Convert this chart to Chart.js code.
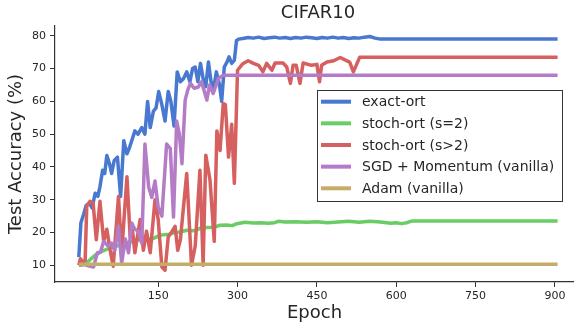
<!DOCTYPE html>
<html>
<head>
<meta charset="utf-8">
<script src="https://cdn.jsdelivr.net/npm/chart.js@4.4.1/dist/chart.umd.min.js"></script>
<style>
  html, body { margin: 0; padding: 0; background: #fff; }
</style>
</head>
<body>
<canvas id="chart" width="574" height="324"></canvas>
<script>
// series data (epoch, test accuracy %)
const seriesLabels = ['exact-ort', 'stoch-ort (s=2)', 'stoch-ort (s>2)', 'SGD + Momentum (vanilla)', 'Adam (vanilla)'];
const seriesColors = ['#4878CF', '#6ACC65', '#D65F5F', '#B47CC7', '#C4AD66'];

const exactEpochs = [0, 4, 9, 14, 20, 25, 31, 36, 40, 45, 49, 53, 58, 62, 67, 73, 79, 85, 91, 96, 100, 106, 112, 119, 125, 130, 135, 141, 146, 151, 157, 163, 169, 174, 180, 186, 192, 198, 204, 210, 215, 220, 225, 230, 236, 240, 245, 250, 255, 260, 266, 270, 275, 280, 284, 289, 294, 298, 302, 310, 320, 330, 340, 350, 360, 370, 380, 390, 400, 410, 420, 430, 440, 450, 460, 470, 480, 490, 500, 510, 520, 530, 540, 550, 560, 570, 905];
const exactAcc = [12.5, 23, 25.5, 28.3, 29, 27.5, 32, 31, 34, 39, 38, 43.5, 41, 38, 42, 43, 31, 48, 44, 46, 48, 51, 50, 52, 50, 60, 52, 57, 58, 63, 59, 54, 63, 60, 52.5, 69, 66, 67, 69, 66, 70, 70.5, 66, 71.6, 66, 64.5, 72, 66, 64, 69, 65, 60, 70.5, 72, 73.6, 71.6, 72.5, 78.5, 79, 79.2, 79.5, 79.3, 79.6, 79.2, 79.4, 79.6, 79.3, 79.5, 79.2, 79.5, 79.3, 79.6, 79.4, 79.2, 79.5, 79.3, 79.6, 79.3, 79.5, 79.2, 79.4, 79.3, 79.6, 79.8, 79.3, 79.0, 79.0];

const stoch2Epochs = [0, 10, 20, 30, 40, 55, 70, 91, 110, 125, 141, 154, 170, 179, 195, 204, 217, 230, 242, 255, 267, 280, 290, 299, 314, 330, 345, 358, 370, 377, 390, 410, 430, 450, 470, 490, 510, 530, 550, 570, 590, 600, 610, 620, 629, 905];
const stoch2Acc = [10, 10.3, 11.5, 13, 14, 15, 15.8, 16.8, 17.7, 17.8, 18.2, 19.2, 19.5, 19.8, 20.3, 20.7, 20.5, 21.3, 21.5, 21.6, 22.2, 22.3, 22.1, 22.7, 23.1, 22.9, 23.0, 22.8, 23.0, 23.4, 23.2, 23.3, 23.1, 23.3, 23.0, 23.2, 23.4, 23.1, 23.4, 23.2, 22.8, 23.0, 22.7, 23.0, 23.5, 23.5];

const stochEpochs = [0, 3, 8, 12, 15, 21, 27, 33, 40, 47, 53, 59, 65, 75, 81, 91, 97, 100, 106, 110, 116, 122, 128, 135, 144, 150, 157, 163, 169, 175, 182, 187, 192, 198, 204, 213, 220, 229, 235, 240, 248, 256, 261, 267, 273, 277, 283, 289, 294, 300, 310, 320, 330, 340, 348, 355, 365, 371, 386, 393, 400, 405, 411, 418, 424, 440, 450, 455, 459, 469, 482, 494, 505, 512, 519, 531, 905];
const stochAcc = [10, 12, 11, 11.5, 28, 29.5, 29, 17.8, 29.5, 17.3, 21, 14.8, 9.7, 31, 13.8, 37, 18.8, 22.8, 13.8, 18, 24, 14.6, 20.4, 13.8, 30, 24, 9.5, 8.5, 18.6, 20, 21.9, 14.6, 17.8, 28, 38, 10, 15.8, 39, 10, 43.6, 36, 17.3, 51, 45, 59.3, 59, 43, 53, 35, 69.5, 71.5, 72.4, 71.6, 71, 69, 71.6, 69.5, 71.7, 71.7, 70.5, 65.5, 71, 71, 65.5, 71.7, 71, 71.3, 66, 71, 72, 72.4, 73.4, 72.5, 72, 69, 73.5, 73.5];

const sgdEpochs = [0, 10, 20, 28, 35, 41, 47, 56, 62, 68, 75, 81, 88, 94, 100, 106, 112, 119, 125, 132, 138, 144, 150, 157, 166, 173, 179, 185, 190, 195, 201, 206, 211, 218, 226, 232, 242, 247, 254, 264, 273, 905];
const sgdAcc = [10, 10.2, 9.8, 9.5, 13.8, 14, 17.3, 15.8, 16.8, 14.5, 21.9, 10.7, 18, 13.8, 22.8, 21, 20.5, 16.7, 47, 33.9, 30.7, 35.7, 27.8, 25, 47, 45.6, 24.7, 54, 50, 41, 60.4, 63.5, 65.5, 64, 64.4, 66, 60.4, 65, 62.4, 67, 68, 68];

const adamEpochs = [0, 905];
const adamAcc = [10.3, 10.3];

const xTicks = [150, 300, 450, 600, 750, 900];
const yTicks = [10, 20, 30, 40, 50, 60, 70, 80];

const allEpochs = [exactEpochs, stoch2Epochs, stochEpochs, sgdEpochs, adamEpochs];
const allAcc = [exactAcc, stoch2Acc, stochAcc, sgdAcc, adamAcc];

const textColor = '#262626';
const axisColor = '#333333';

// legend + title drawn by hand so they sit where matplotlib put them
const extrasPlugin = {
  id: 'extras',
  afterDraw(chart) {
    const ctx = chart.ctx;
    const area = chart.chartArea;
    ctx.save();
    ctx.fillStyle = textColor;
    ctx.font = '18px "DejaVu Sans"';
    ctx.textAlign = 'center';
    ctx.textBaseline = 'middle';
    ctx.fillText('CIFAR10', (area.left + 581) / 2, 13);

    const bx = 317, by = 90, bw = 245, bh = 111;
    ctx.fillStyle = '#fff';
    ctx.fillRect(bx, by, bw, bh);
    ctx.strokeStyle = axisColor;
    ctx.lineWidth = 1;
    ctx.strokeRect(bx + 0.5, by + 0.5, bw, bh);

    ctx.font = '14px "DejaVu Sans"';
    ctx.textAlign = 'left';
    chart.data.datasets.forEach((ds, i) => {
      const y = 101.7 + i * 21.65;
      ctx.strokeStyle = ds.borderColor;
      ctx.lineWidth = 4;
      ctx.beginPath();
      ctx.moveTo(321, y);
      ctx.lineTo(351, y);
      ctx.stroke();
      ctx.fillStyle = textColor;
      ctx.fillText(ds.label, 362, y + 1);
    });
    ctx.restore();
  }
};

const datasets = seriesLabels.map((label, i) => ({
  label: label,
  data: allEpochs[i].map((ep, j) => ({ x: ep, y: allAcc[i][j] })),
  borderColor: seriesColors[i],
  backgroundColor: seriesColors[i],
  borderWidth: 3.5,
  borderJoinStyle: 'round',
  pointRadius: 0,
  tension: 0,
  fill: false,
  order: seriesLabels.length - i, // later series on top, like matplotlib
}));

new Chart(document.getElementById('chart'), {
  type: 'line',
  data: { datasets },
  options: {
    responsive: false,
    animation: false,
    layout: { padding: { top: 26, left: 0, right: 0, bottom: 0 } },
    plugins: {
      legend: { display: false },
      title: { display: false },
      tooltip: { enabled: false },
    },
    scales: {
      x: {
        type: 'linear',
        min: -45,
        max: 936,
        afterFit: (s) => { s.height = 42; },
        afterBuildTicks: (s) => { s.ticks = xTicks.map((v) => ({ value: v })); },
        border: { display: true, color: axisColor, width: 1.2 },
        grid: { drawOnChartArea: false, drawTicks: true, tickLength: 5, color: axisColor },
        ticks: { color: textColor, font: { family: 'DejaVu Sans', size: 11 }, padding: 3, maxRotation: 0, autoSkip: false },
        title: { display: true, text: 'Epoch', color: textColor, font: { family: 'DejaVu Sans', size: 18 }, padding: { top: 0, bottom: 0 } },
      },
      y: {
        min: 4.9,
        max: 83,
        afterFit: (s) => { s.width = 55; },
        afterBuildTicks: (s) => { s.ticks = yTicks.map((v) => ({ value: v })); },
        border: { display: true, color: axisColor, width: 1.2 },
        grid: { drawOnChartArea: false, drawTicks: true, tickLength: 5, color: axisColor },
        ticks: { color: textColor, font: { family: 'DejaVu Sans', size: 11 }, padding: 4 },
        title: { display: true, text: 'Test Accuracy (%)', color: textColor, font: { family: 'DejaVu Sans', size: 18 }, padding: { top: 6, bottom: 0 } },
      },
    },
  },
  plugins: [extrasPlugin],
});
</script>
</body>
</html>
